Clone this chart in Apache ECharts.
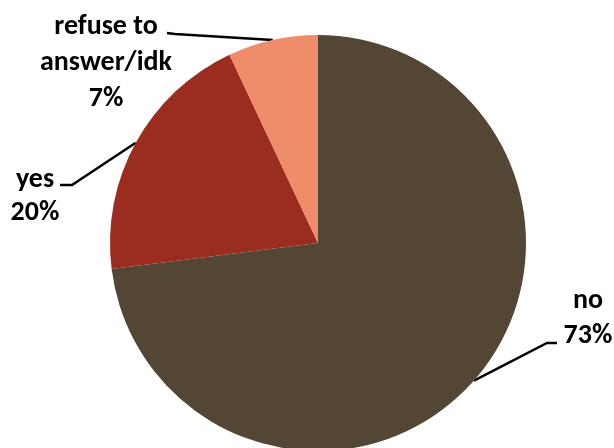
<!DOCTYPE html>
<html>
<head>
<meta charset="utf-8">
<script src="https://cdn.jsdelivr.net/npm/echarts@6/dist/echarts.min.js"></script>
<style>
  html, body { margin: 0; padding: 0; background: #fff; }
  #chart { width: 614px; height: 448px; }
</style>
</head>
<body>
<div id="chart"></div>
<script>
// Answer categories, clockwise from 12 o'clock
const categories = ['no', 'yes', 'refuse to\nanswer/idk'];
// Share of respondents (%)
const shares = [73, 20, 7];
const colors = ['#534634', '#9B2D20', '#EF8C6A'];

// Where each label block sits and how its leader bends (pixels)
const labelSpots = [
  { x: 588, y: 318, lineHeight: 35, bend: [547, 343], end: [557, 343] },
  { x: 35,  y: 196, lineHeight: 33, bend: [72, 185],  end: [60, 185] },
  { x: 106, y: 63,  lineHeight: 36, bend: [175, 34],  end: [167, 33] }
];

const chart = echarts.init(document.getElementById('chart'));
chart.setOption({
  animation: false,
  backgroundColor: '#ffffff',
  series: [{
    type: 'pie',
    center: [318, 243],
    radius: 208,
    startAngle: 90,
    clockwise: true,
    data: categories.map((name, i) => ({
      name: name,
      value: shares[i],
      itemStyle: { color: colors[i] },
      label: { lineHeight: labelSpots[i].lineHeight }
    })),
    label: {
      show: true,
      position: 'outside',
      formatter: '{b}\n{d}%',
      fontFamily: 'Carlito, Lato, "Liberation Sans Narrow", sans-serif',
      fontWeight: 900,
      fontSize: 28,
      color: '#000',
      align: 'center'
    },
    labelLine: {
      show: true,
      length: 20,
      length2: 10,
      lineStyle: { color: '#000', width: 2.5 }
    },
    labelLayout: function (params) {
      const s = labelSpots[params.dataIndex];
      const start = params.labelLinePoints ? params.labelLinePoints[0] : s.bend;
      return {
        x: s.x,
        y: s.y,
        align: 'center',
        verticalAlign: 'middle',
        labelLinePoints: [start, s.bend, s.end]
      };
    }
  }]
});
</script>
</body>
</html>
